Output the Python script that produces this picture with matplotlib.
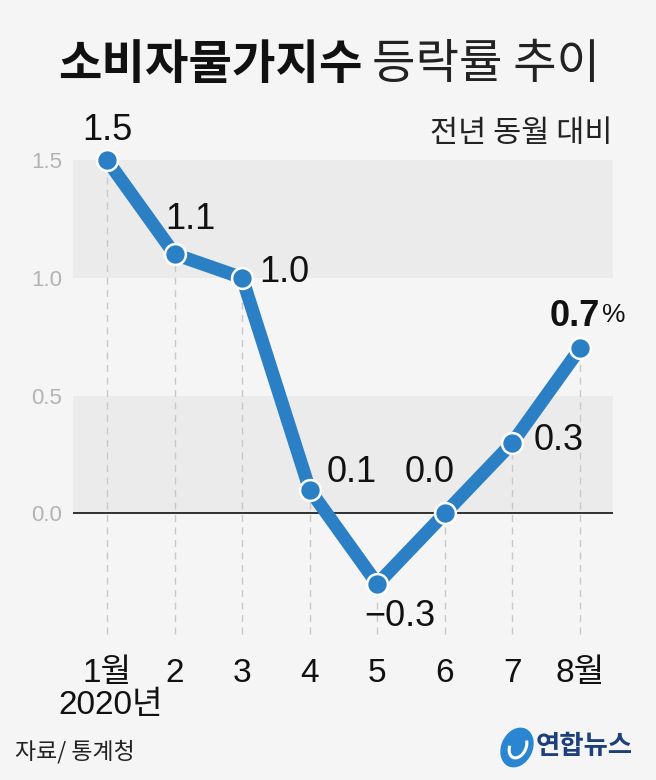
import matplotlib
matplotlib.use("Agg")
from matplotlib import pyplot as plt
from matplotlib.patches import Ellipse, Arc

months = [1, 2, 3, 4, 5, 6, 7, 8]
month_labels = ["1월", "2", "3", "4", "5", "6", "7", "8월"]
values = [1.5, 1.1, 1.0, 0.1, -0.3, 0.0, 0.3, 0.7]
value_labels = ["1.5", "1.1", "1.0", "0.1", "\u22120.3", "0.0", "0.3", "0.7"]
yticks = [0.0, 0.5, 1.0, 1.5]
# label offsets from the point, in pixels (x right, y up)
offsets = [(0, 30), (16, 35), (42, 5), (42, 17), (23, -32), (-15, 41), (46, 2), (20, 32)]

BG = "#f5f5f5"
BAND = "#ebebeb"
BLUE = "#2b80c5"
NUM = ["Liberation Sans", "DejaVu Sans"]
KR = ["Noto Sans CJK KR", "DejaVu Sans"]
MIX = ["Liberation Sans", "Noto Sans CJK KR"]
PX = 0.72  # points per pixel at dpi 100

fig = plt.figure(figsize=(6.56, 7.80), dpi=100, facecolor=BG)
ax = fig.add_axes([73 / 656, 130 / 780, 540 / 656, 490 / 780])
ax.set_facecolor(BG)
ax.set_xlim(0.497, 8.488)
ax.set_ylim(-0.58, 1.5)
for s in ax.spines.values():
    s.set_visible(False)

ax.axhspan(1.0, 1.5, color=BAND, zorder=0, lw=0)
ax.axhspan(0.0, 0.5, color=BAND, zorder=0, lw=0)
ax.axhline(0, color="#222222", lw=1.3, zorder=1)

for m, v in zip(months, values):
    ax.plot([m, m], [-0.51, v], color="#c8c8c8", lw=1, ls=(0, (5, 4)), zorder=1)

ax.plot(months, values, color=BLUE, lw=9.5, solid_capstyle="round",
        solid_joinstyle="round", zorder=3, clip_on=False)
ax.plot(months, values, "o", color=BLUE, ms=15, mec="white", mew=1.8,
        zorder=4, clip_on=False)

ax.set_yticks(yticks)
ax.set_yticklabels([f"{t:.1f}" for t in yticks], family=NUM, fontsize=16,
                   color="#b3b3b3")
ax.tick_params(axis="y", length=0, pad=8)
ax.set_xticks(months)
ax.set_xticklabels(month_labels, family=MIX, fontsize=24, color="#111111")
ax.tick_params(axis="x", length=0, pad=6)

for i, (m, v) in enumerate(zip(months, values)):
    dx, dy = offsets[i]
    if i == len(values) - 1:
        ax.annotate(value_labels[i], (m, v), xytext=(dx * PX, dy * PX),
                    textcoords="offset points", ha="right", va="center",
                    family=NUM, fontsize=26, fontweight="bold", color="#111111")
        ax.annotate("%", (m, v), xytext=((dx + 2) * PX, (dy + 1) * PX),
                    textcoords="offset points", ha="left", va="center",
                    family=NUM, fontsize=19, color="#111111")
    else:
        ax.annotate(value_labels[i], (m, v), xytext=(dx * PX, dy * PX),
                    textcoords="offset points", ha="center", va="center",
                    family=NUM, fontsize=26, color="#111111")

# title
t1 = fig.text(58 / 656, 1 - 65 / 780, "소비자물가지수", family=KR, fontsize=34,
              fontweight="bold", ha="left", va="center", color="#111111")
fig.canvas.draw()
bb = t1.get_window_extent()
fig.text((bb.x1 + 10) / 656, 1 - 65 / 780, "등락률 추이", family=KR, fontsize=34,
         fontweight="light", ha="left", va="center", color="#222222")
fig.text(612 / 656, 1 - 133 / 780, "전년 동월 대비", family=KR, fontsize=22,
         fontweight="light", style="italic", ha="right", va="center", color="#222222")

fig.text(58 / 656, 1 - 705 / 780, "2020년", family=MIX,
         fontsize=24, ha="left", va="center", color="#111111")
fig.text(15 / 656, 1 - 752 / 780, "자료/ 통계청", family=KR, fontsize=16.5,
         fontweight="light", style="italic", ha="left", va="center", color="#222222")

# logo
lax = fig.add_axes([497 / 656, 10 / 780, 40 / 656, 45 / 780])
lax.set_xlim(-1, 1)
lax.set_ylim(-1.1, 1.1)
lax.set_aspect("equal")
lax.axis("off")
lax.add_patch(Ellipse((0, 0), 1.5, 2.0, angle=-25, color="#2a86d0"))
lax.add_patch(Arc((0.05, 0.05), 0.8, 1.2, angle=-25, theta1=200, theta2=420,
                  color="white", lw=2.2))
fig.text(536 / 656, 1 - 746 / 780, "연합뉴스", family=KR, fontsize=19,
         fontweight="bold", ha="left", va="center", color="#1d3f7a")

fig.savefig("out.png", dpi=100, facecolor=BG)
